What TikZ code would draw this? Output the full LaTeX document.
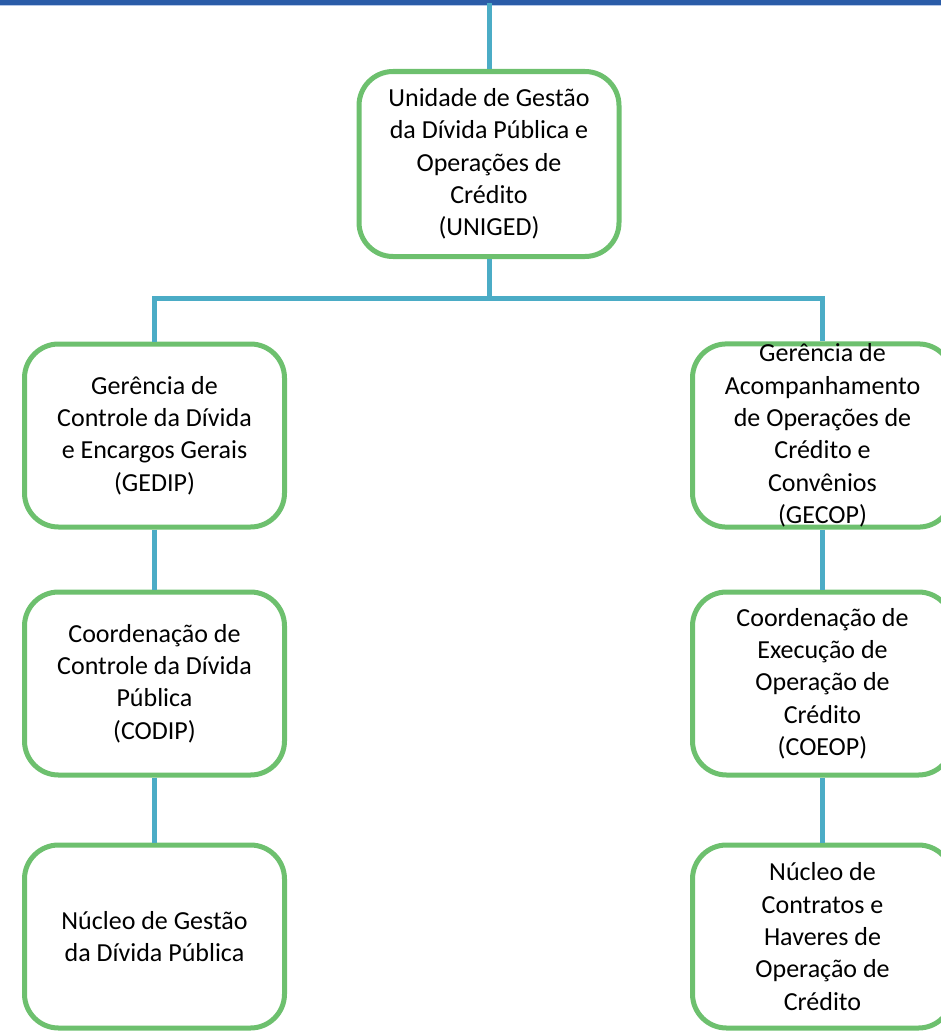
\documentclass[tikz,border=0pt]{standalone}
\usepackage{fontspec}
\setmainfont{Carlito}
\usepackage{tikz}
\usetikzlibrary{positioning}

\definecolor{barblue}{HTML}{2A5CA8}
\definecolor{barline}{HTML}{B4C7E7}
\definecolor{linkblue}{HTML}{4BACC6}
\definecolor{boxgreen}{HTML}{6DC06E}

\begin{document}
\begin{tikzpicture}[x=1pt, y=-1pt,
        unit/.style={draw=boxgreen, line width=5pt, rounded corners=34pt, fill=white,
            minimum width=260pt, minimum height=183pt, align=center, inner sep=0pt,
            font=\fontsize{26}{32.3}\selectfont},
        link/.style={draw=linkblue, line width=5pt}]
        \useasboundingbox (0,0) rectangle (941,1033);
        \clip (0,0) rectangle (941,1033);

        % barra do topo
        \fill[barblue] (0,0) rectangle (941,5);
        \fill[barline] (0,5) rectangle (941,6.5);

        \coordinate (top) at (489,3);
        \coordinate (split) at (489,298);

        \node[unit, minimum height=185pt] (uniged) at (489,164) {Unidade de Gestão\\da Dívida Pública e\\Operações de\\Crédito\\(UNIGED)};
        \node[unit] (gedip) at (154.5,435.5) {Gerência de\\Controle da Dívida\\e Encargos Gerais\\(GEDIP)};
        \node[unit] (gecop) at (822.5,435.5) {Gerência de\\Acompanhamento\\de Operações de\\Crédito e\\Convênios\\(GECOP)};
        \node[unit] (codip) at (154.5,683.5) {Coordenação de\\Controle da Dívida\\Pública\\(CODIP)};
        \node[unit] (coeop) at (822.5,683.5) {Coordenação de\\Execução de\\Operação de\\Crédito\\(COEOP)};
        \node[unit] (ngdp) at (154.5,936.5) {Núcleo de Gestão\\da Dívida Pública};
        \node[unit] (nchoc) at (822.5,936.5) {Núcleo de\\Contratos e\\Haveres de\\Operação de\\Crédito};

        \draw[link] (top) -- (uniged.north);
        \draw[link] (uniged.south) -- (split);
        \draw[link] (split) -| (gedip.north);
        \draw[link] (split) -| (gecop.north);
        \draw[link] (gedip.south) -- (codip.north);
        \draw[link] (codip.south) -- (ngdp.north);
        \draw[link] (gecop.south) -- (coeop.north);
        \draw[link] (coeop.south) -- (nchoc.north);
    \end{tikzpicture}
\end{document}
